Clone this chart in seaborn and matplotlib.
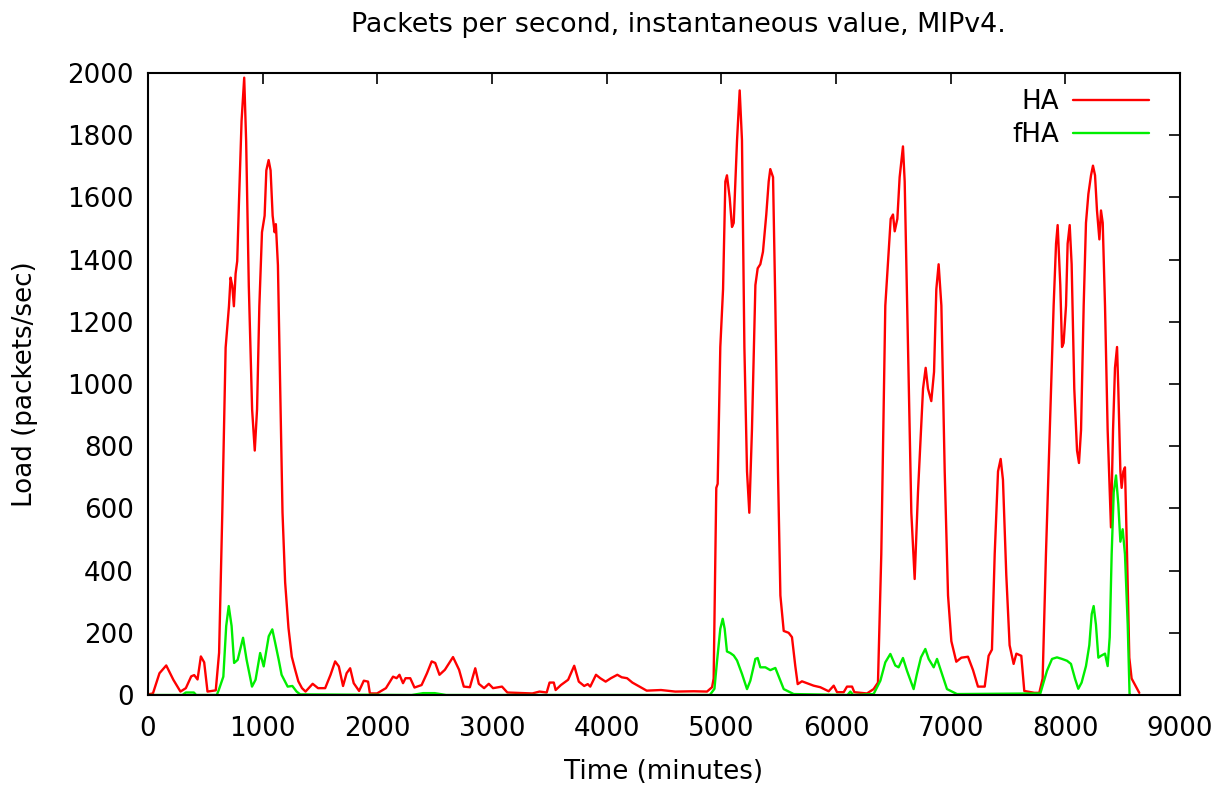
import matplotlib
matplotlib.use("Agg")
import matplotlib.pyplot as plt
import seaborn as sns
import pandas as pd

ha_time = [0, 43, 100, 159, 221, 283, 330, 377, 403, 432, 461, 490, 519, 591, 620, 648, 677, 706, 720, 735, 749, 764, 778, 793, 816, 839, 856, 879, 908, 931, 951, 971, 994, 1017, 1032, 1052, 1069, 1087, 1104, 1115, 1133, 1153, 1173, 1196, 1225, 1254, 1282, 1311, 1343, 1374, 1436, 1483, 1545, 1592, 1632, 1664, 1701, 1732, 1763, 1794, 1841, 1882, 1919, 1935, 1997, 2075, 2137, 2168, 2193, 2224, 2246, 2287, 2324, 2386, 2433, 2474, 2505, 2542, 2589, 2660, 2713, 2754, 2807, 2854, 2885, 2931, 2972, 3009, 3087, 3134, 3352, 3414, 3477, 3502, 3539, 3555, 3601, 3664, 3717, 3757, 3804, 3835, 3857, 3907, 3944, 3991, 4037, 4093, 4131, 4178, 4224, 4287, 4349, 4474, 4598, 4759, 4875, 4919, 4933, 4956, 4968, 4991, 5015, 5035, 5049, 5073, 5093, 5108, 5137, 5160, 5180, 5201, 5224, 5244, 5267, 5297, 5317, 5340, 5363, 5392, 5413, 5427, 5451, 5471, 5494, 5515, 5544, 5587, 5616, 5645, 5666, 5703, 5747, 5805, 5863, 5936, 5980, 6009, 6067, 6096, 6140, 6160, 6270, 6328, 6366, 6395, 6430, 6477, 6497, 6512, 6535, 6555, 6584, 6599, 6628, 6657, 6686, 6715, 6759, 6782, 6802, 6831, 6855, 6875, 6895, 6919, 6948, 6977, 7006, 7049, 7093, 7151, 7195, 7238, 7297, 7331, 7360, 7384, 7413, 7436, 7456, 7485, 7514, 7549, 7573, 7616, 7642, 7730, 7773, 7802, 7831, 7875, 7898, 7919, 7933, 7956, 7971, 7985, 8006, 8020, 8038, 8055, 8078, 8102, 8119, 8137, 8160, 8180, 8201, 8224, 8241, 8259, 8276, 8297, 8311, 8326, 8346, 8369, 8398, 8416, 8433, 8451, 8462, 8480, 8491, 8506, 8520, 8538, 8558, 8578, 8616, 8645]
ha_load = [2, 5, 70, 95, 49, 11, 22, 60, 64, 50, 124, 105, 11, 15, 136, 587, 1117, 1250, 1342, 1316, 1250, 1355, 1395, 1581, 1846, 1985, 1780, 1316, 918, 786, 918, 1250, 1488, 1541, 1687, 1720, 1687, 1541, 1488, 1514, 1382, 985, 587, 362, 216, 123, 83, 44, 22, 11, 36, 22, 22, 65, 108, 92, 29, 70, 86, 38, 13, 46, 43, 5, 5, 22, 59, 54, 65, 38, 54, 54, 24, 32, 70, 108, 103, 65, 81, 122, 81, 27, 25, 86, 36, 22, 36, 22, 27, 8, 5, 11, 8, 40, 40, 16, 32, 49, 94, 43, 29, 35, 27, 65, 54, 43, 54, 65, 57, 54, 40, 27, 14, 16, 11, 12, 11, 25, 53, 666, 679, 1119, 1305, 1651, 1671, 1598, 1505, 1518, 1784, 1944, 1784, 1119, 719, 586, 852, 1318, 1372, 1385, 1425, 1545, 1651, 1691, 1665, 1252, 719, 320, 206, 200, 186, 93, 35, 44, 38, 30, 25, 12, 30, 9, 9, 27, 27, 9, 5, 19, 40, 453, 1252, 1531, 1545, 1491, 1531, 1665, 1764, 1651, 1119, 586, 373, 652, 985, 1052, 985, 945, 1039, 1305, 1385, 1252, 719, 320, 173, 107, 120, 123, 80, 27, 27, 126, 146, 453, 719, 759, 692, 386, 160, 100, 133, 126, 13, 7, 7, 53, 453, 985, 1252, 1451, 1511, 1318, 1119, 1132, 1252, 1451, 1511, 1385, 985, 786, 746, 852, 1252, 1518, 1611, 1671, 1702, 1671, 1558, 1465, 1558, 1518, 1252, 852, 539, 852, 1052, 1119, 985, 719, 666, 719, 732, 453, 120, 53, 27, 7]

fha_time = [0, 300, 330, 400, 420, 600, 617, 657, 682, 704, 729, 751, 782, 829, 860, 907, 938, 978, 1009, 1053, 1084, 1109, 1140, 1165, 1218, 1259, 1296, 1327, 2300, 2400, 2500, 2600, 4900, 4940, 4962, 4991, 5012, 5029, 5049, 5078, 5108, 5137, 5180, 5224, 5253, 5297, 5317, 5340, 5384, 5427, 5471, 5500, 5544, 5631, 6100, 6125, 6150, 6328, 6387, 6430, 6474, 6517, 6546, 6584, 6619, 6677, 6706, 6741, 6779, 6808, 6852, 6881, 6924, 6968, 7055, 7782, 7840, 7884, 7927, 7971, 8015, 8049, 8084, 8113, 8142, 8180, 8209, 8230, 8247, 8267, 8288, 8311, 8346, 8369, 8387, 8404, 8422, 8442, 8462, 8480, 8500, 8520, 8544, 8560, 8565]
fha_load = [0, 0, 8, 8, 0, 0, 16, 59, 222, 286, 222, 103, 113, 184, 113, 27, 49, 135, 92, 189, 211, 168, 113, 65, 27, 29, 11, 2, 0, 6, 6, 0, 0, 20, 107, 213, 245, 213, 140, 135, 127, 111, 68, 19, 46, 116, 119, 89, 89, 80, 87, 60, 19, 3, 0, 11, 0, 3, 46, 105, 132, 95, 89, 119, 78, 19, 68, 121, 148, 116, 89, 116, 68, 19, 3, 5, 78, 116, 121, 116, 110, 100, 53, 20, 40, 93, 160, 260, 286, 226, 120, 126, 133, 93, 186, 453, 652, 706, 613, 493, 533, 453, 226, 5, 0]

series_names = ["HA", "fHA"]
series_colors = ["#ff0000", "#00ee00"]
x_ticks = [0, 1000, 2000, 3000, 4000, 5000, 6000, 7000, 8000, 9000]
y_ticks = [0, 200, 400, 600, 800, 1000, 1200, 1400, 1600, 1800, 2000]

df = pd.concat([
    pd.DataFrame({"time": ha_time, "load": ha_load, "series": series_names[0]}),
    pd.DataFrame({"time": fha_time, "load": fha_load, "series": series_names[1]}),
], ignore_index=True)

sns.set_style("white")
plt.rcParams["font.family"] = ["DejaVu Sans"]
plt.rcParams["text.color"] = "black"
plt.rcParams["axes.labelcolor"] = "black"

FS = 18.8

fig = plt.figure(figsize=(12.19, 7.92), dpi=100)
ax = fig.add_axes([148 / 1219, 97 / 792, (1180 - 148) / 1219, (695 - 73) / 792])

sns.lineplot(data=df, x="time", y="load", hue="series", hue_order=series_names,
             palette=series_colors, sort=False, estimator=None, linewidth=1.7, ax=ax)

ax.set_xlim(0, 9000)
ax.set_ylim(0, 2000)
ax.set_xticks(x_ticks)
ax.set_yticks(y_ticks)
ax.tick_params(direction="in", length=8, width=1.2, top=True, right=True,
               labelsize=FS, colors="black")
ax.tick_params(axis="x", pad=15)
ax.tick_params(axis="y", pad=10)
for s in ax.spines.values():
    s.set_visible(True)
    s.set_color("black")
    s.set_linewidth(1.5)

ax.set_xlabel("Time (minutes)", fontsize=FS)
ax.set_ylabel("Load (packets/sec)", fontsize=FS)
ax.xaxis.set_label_coords((664 - 148) / 1032, (695 - 759) / 622)
ax.yaxis.set_label_coords((38 - 148) / 1032, 0.5)
fig.text(678 / 1219, 1 - 25 / 792, "Packets per second, instantaneous value, MIPv4.",
         ha="center", va="center", fontsize=19.4, color="black")

leg = ax.legend(loc="upper right", frameon=False, markerfirst=False, fontsize=FS,
                handlelength=2.9, handletextpad=0.55, borderaxespad=0, borderpad=0,
                labelspacing=0.28,
                bbox_to_anchor=((1149 - 148) / 1032, (695 - 89) / 622))
for line in leg.get_lines():
    line.set_linewidth(1.7)

fig.savefig("out.png", dpi=100, facecolor="white")
